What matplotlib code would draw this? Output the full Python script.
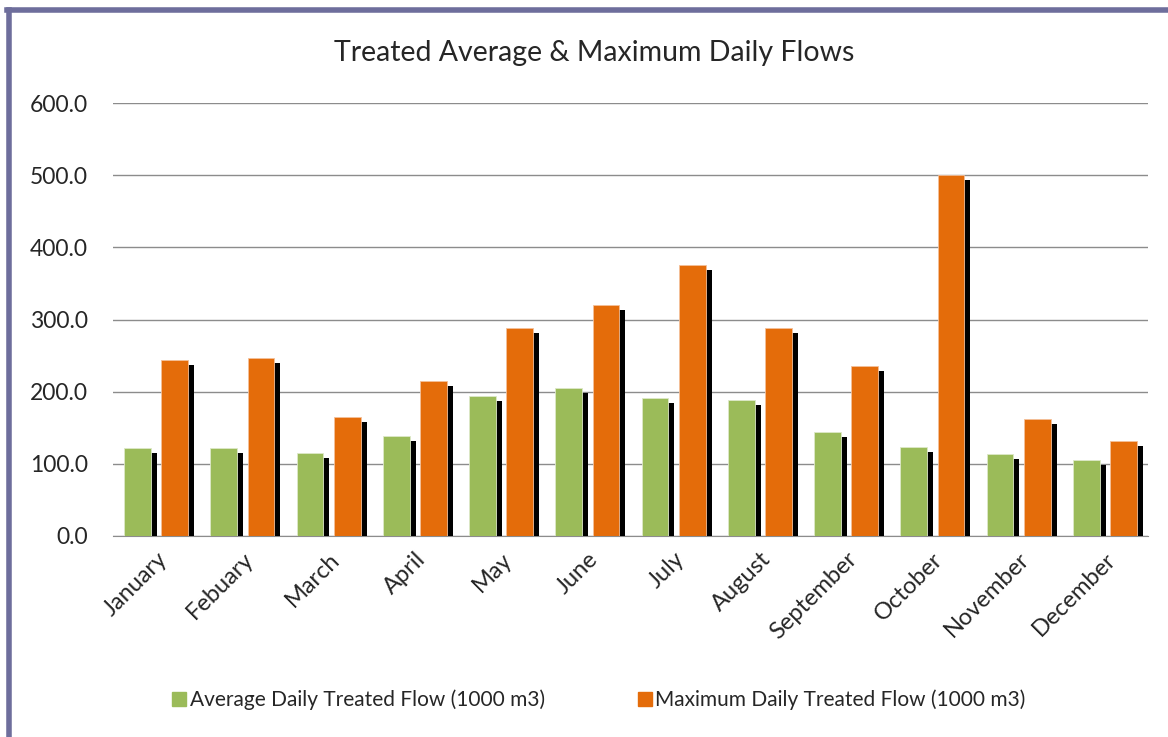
import numpy as np
import matplotlib
matplotlib.use("Agg")
import matplotlib.pyplot as plt
import matplotlib.patheffects as pe
from matplotlib.lines import Line2D

plt.rcParams["font.family"] = ["Lato", "DejaVu Sans"]

months = ["January", "Febuary", "March", "April", "May", "June", "July",
          "August", "September", "October", "November", "December"]
avg_flow = [122, 122, 115, 138, 194, 205, 191, 188, 144, 123, 114, 105]
max_flow = [244, 247, 165, 215, 288, 320, 375, 288, 236, 500, 162, 131]
yticks = [0, 100, 200, 300, 400, 500, 600]

GREEN = "#9BBB59"
ORANGE = "#E46C0A"
TEXT = "#262626"
BORDER = "#6E6E9C"

fig = plt.figure(figsize=(11.68, 7.37), dpi=100)
ax = fig.add_axes([113 / 1168, 201 / 737, 1035 / 1168, 433 / 737])

x = np.arange(len(months))
shadow = [pe.SimplePatchShadow(offset=(4.3, -3.6), shadow_rgbFace="black", alpha=1.0),
          pe.Normal()]
b1 = ax.bar(x - 0.215, avg_flow, width=0.31, color=GREEN, edgecolor="#DDE8C8",
            linewidth=0.6, label="Average Daily Treated Flow (1000 m3)", zorder=3)
b2 = ax.bar(x + 0.215, max_flow, width=0.31, color=ORANGE, edgecolor="#F4C09A",
            linewidth=0.6, label="Maximum Daily Treated Flow (1000 m3)", zorder=3)
for bar in list(b1) + list(b2):
    bar.set_path_effects(shadow)

ax.set_xlim(-0.5, len(months) - 0.5)
ax.set_ylim(0, 600)
ax.set_yticks(yticks)
ax.set_yticklabels([f"{v:.1f}" for v in yticks], fontsize=16.5, color=TEXT)
ax.yaxis.grid(True, color="#8C8C8C", linewidth=1.0, zorder=0)
ax.set_axisbelow(True)
for s in ["top", "right", "left"]:
    ax.spines[s].set_visible(False)
ax.spines["bottom"].set_color("#8C8C8C")
ax.tick_params(axis="y", length=0, pad=18)
ax.tick_params(axis="x", length=0, pad=9)
ax.set_xticks(x)
ax.set_xticklabels(months, rotation=45, ha="right", rotation_mode="anchor",
                   fontsize=17, color=TEXT)

fig.text(0.509, 0.928, "Treated Average & Maximum Daily Flows", ha="center",
         va="center", fontsize=20.5, color=TEXT)

handles = [Line2D([], [], marker="s", linestyle="", markersize=10,
                  markerfacecolor=GREEN, markeredgecolor=GREEN),
           Line2D([], [], marker="s", linestyle="", markersize=10,
                  markerfacecolor=ORANGE, markeredgecolor=ORANGE)]
fig.legend(handles, [b1.get_label(), b2.get_label()], loc="center",
           bbox_to_anchor=(0.513, 0.05), ncol=2, frameon=False, fontsize=15,
           handlelength=0.6, handletextpad=0.2, columnspacing=4.5,
           labelcolor=TEXT)

# frame around the chart (only left and top edges fall inside the image)
fig.add_artist(Line2D([9 / 1168, 9 / 1168], [0, 1 - 10 / 737],
                      transform=fig.transFigure, color=BORDER, linewidth=4))
fig.add_artist(Line2D([7 / 1168, 1], [1 - 10 / 737, 1 - 10 / 737],
                      transform=fig.transFigure, color=BORDER, linewidth=4))

fig.savefig("out.png", dpi=100, facecolor="white")
